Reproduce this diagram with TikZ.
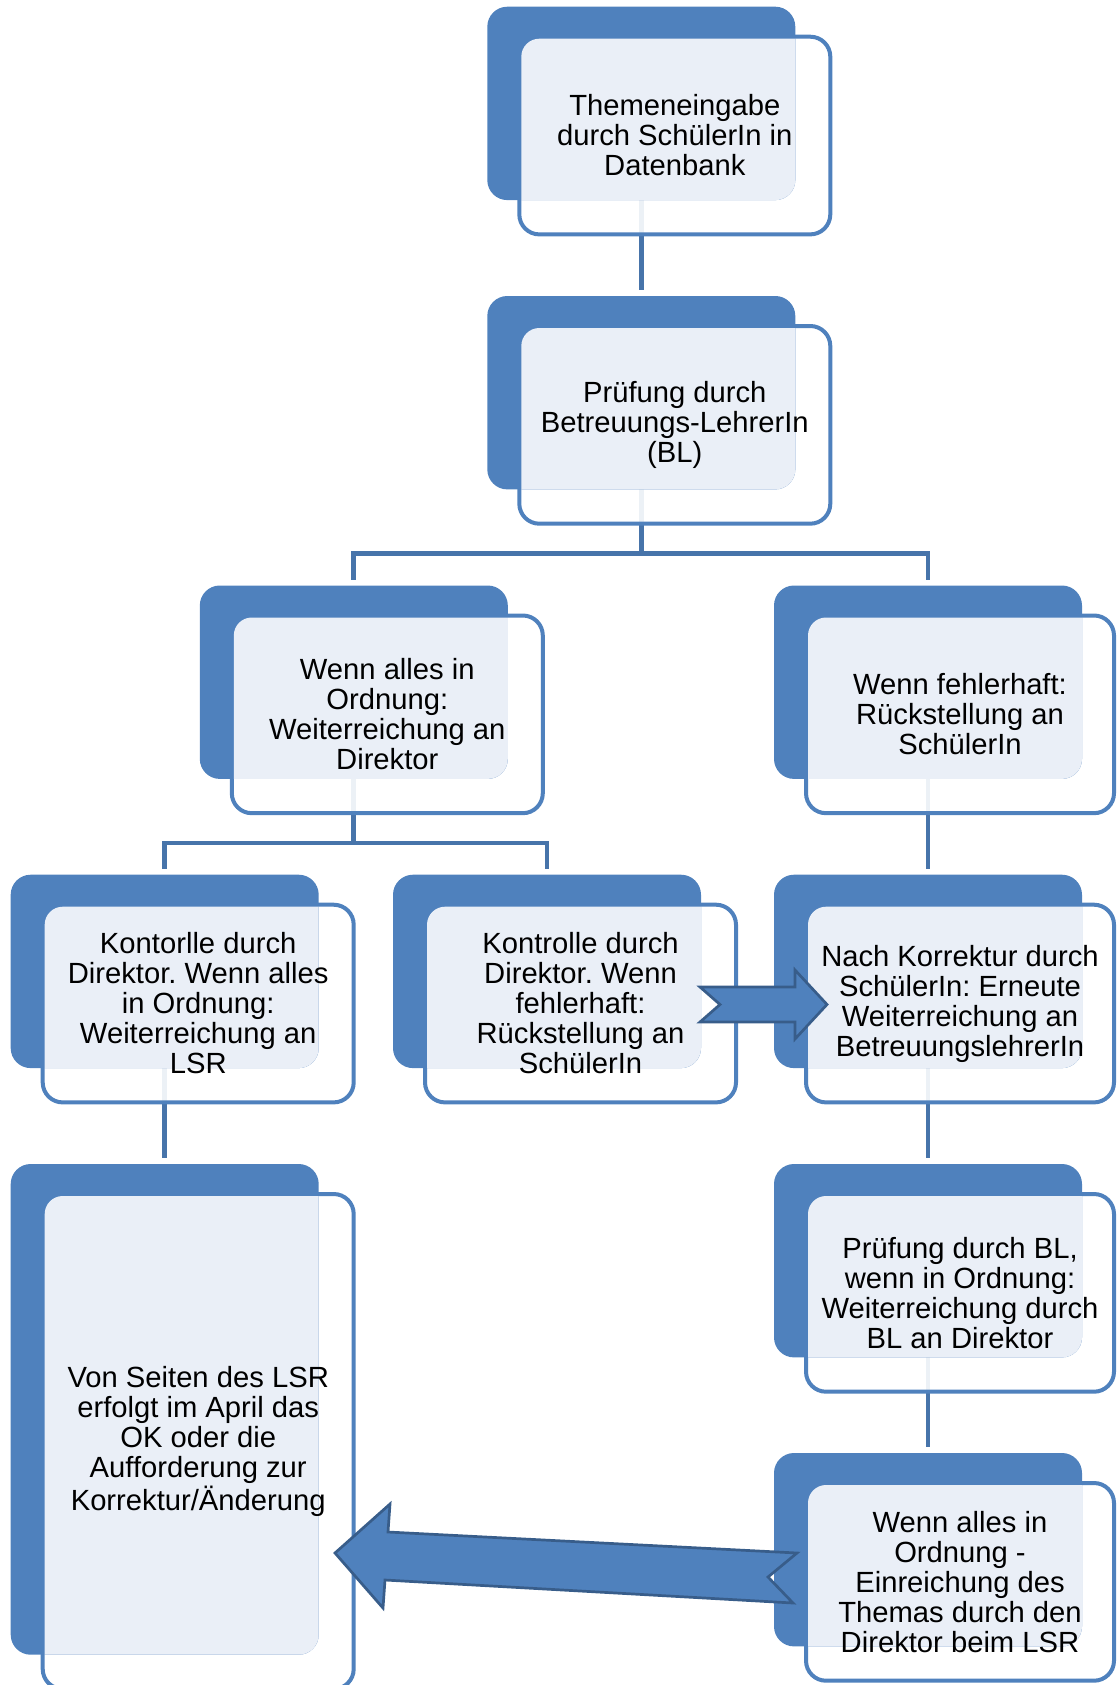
\documentclass[tikz,border=0pt]{standalone}
\usepackage{fontspec}
\setmainfont{Liberation Sans}
\frenchspacing
\usetikzlibrary{calc}

\definecolor{boxblue}{RGB}{79,129,189}
\definecolor{paleblue}{RGB}{234,239,247}
\definecolor{linkblue}{RGB}{71,116,170}
\definecolor{arrowedge}{RGB}{56,93,138}

\pgfdeclarelayer{background}
\pgfsetlayers{background,main}

% name, x, y (top left of the dark box), width and height of the framed box, text
\newcommand{\stepbox}[6]{%
  \node[frontbox, minimum width=#4, minimum height=#5] (#1f) at (#2+32,#3+30) {};
  \node[backbox, minimum height=#5-2.15pt] (#1) at (#2,#3) {};
  \begin{scope}
    \clip[rounded corners=10pt] (#1.north west) rectangle (#1.south east);
    \fill[paleblue, rounded corners=9pt] ([shift={(1pt,-1pt)}]#1f.north west) rectangle ([shift={(-1pt,1pt)}]#1f.south east);
  \end{scope}
  \node[boxtext] (#1t) at (#1f.center) {#6};
}

\begin{document}
\begin{tikzpicture}[x=0.5pt,y=-0.5pt,
  backbox/.style={rectangle,fill=boxblue,rounded corners=10pt,minimum width=154pt,anchor=north west,inner sep=0pt,outer sep=0pt},
  frontbox/.style={rectangle,draw=boxblue,line width=2pt,fill=white,fill opacity=0.9,rounded corners=10pt,anchor=north west,inner sep=0pt,outer sep=0pt},
  boxtext/.style={align=center,font=\fontsize{14.6pt}{15pt}\selectfont,inner sep=0pt,text=black},
  link/.style={draw=linkblue,line width=2.4pt},
  fatarrow/.style={fill=boxblue,draw=arrowedge,line width=1.35pt,line join=miter}]

  \useasboundingbox (0,0) rectangle (1116,1685);
  \clip (0,0) rectangle (1116,1685);

  \stepbox{b1}{487.3}{6.7}{155.5pt}{98.85pt}{Themeneingabe\\durch SchülerIn in\\Datenbank}
  \stepbox{b2}{487.3}{296}{155.5pt}{98.85pt}{Prüfung durch\\Betreuungs-LehrerIn\\(BL)}
  \stepbox{b3}{199.8}{585.5}{155.5pt}{98.85pt}{Wenn alles in\\Ordnung:\\Weiterreichung an\\Direktor}
  \stepbox{b4}{774}{585.5}{154pt}{98.85pt}{Wenn fehlerhaft:\\Rückstellung an\\SchülerIn}
  \stepbox{b5}{10.7}{874.7}{155.5pt}{98.85pt}{Kontorlle durch\\Direktor. Wenn alles\\in Ordnung:\\Weiterreichung an\\LSR}
  \stepbox{b6}{393}{874.7}{155.5pt}{98.85pt}{Kontrolle durch\\Direktor. Wenn\\fehlerhaft:\\Rückstellung an\\SchülerIn}
  \stepbox{b7}{774}{874.7}{154pt}{98.85pt}{Nach Korrektur durch\\SchülerIn: Erneute\\Weiterreichung an\\BetreuungslehrerIn}
  \stepbox{b8}{10.7}{1164}{155.5pt}{247.5pt}{Von Seiten des LSR\\erfolgt im April das\\OK oder die\\Aufforderung zur\\Korrektur/Änderung}
  \stepbox{b9}{774}{1164}{154pt}{98.85pt}{Prüfung durch BL,\\wenn in Ordnung:\\Weiterreichung durch\\BL an Direktor}
  \stepbox{b10}{774}{1453}{154pt}{98.85pt}{Wenn alles in\\Ordnung -\\Einreichung des\\Themas durch den\\Direktor beim LSR}

  % hierarchy lines
  \begin{pgfonlayer}{background}
    \draw[link] (b1.south) -- ([yshift=3pt]b2.north);
    \draw[link] (b2.south) -- ++(0,-32pt) coordinate (j2);
    \draw[link] ([yshift=3pt]b3.north) |- (j2) -| ([yshift=3pt]b4.north);
    \draw[link] (b3.south) -- ++(0,-32pt) coordinate (j3);
    \draw[link] ([yshift=3pt]b5.north) |- (j3) -| ([yshift=3pt]b6.north);
    \draw[link] (b4.south) -- ([yshift=3pt]b7.north);
    \draw[link] (b5.south) -- ([yshift=3pt]b8.north);
    \draw[link] (b7.south) -- ([yshift=3pt]b9.north);
    \draw[link] (b9.south) -- ([yshift=3pt]b10.north);
  \end{pgfonlayer}

  % block arrows
  \draw[fatarrow] (700,987) -- (795,987) -- (795,970) -- (827,1004.5) -- (795,1039) -- (795,1022) -- (700,1022) -- (720,1004.5) -- cycle;
  \draw[fatarrow] (335,1553) -- (390,1504) -- (388,1532) -- (797,1553) -- (768,1577) -- (793,1603) -- (385,1580) -- (383,1608) -- cycle;

\end{tikzpicture}
\end{document}
